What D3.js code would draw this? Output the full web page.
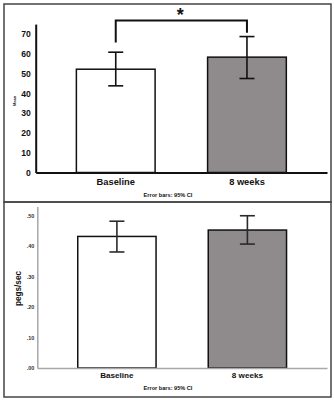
<!DOCTYPE html>
<html>
<head>
<meta charset="utf-8">
<script src="https://cdn.jsdelivr.net/npm/d3@7"></script>
<style>
  body { margin: 0; background: #fff; }
  svg { display: block; font-family: Arial, "Liberation Sans", sans-serif; }
</style>
</head>
<body>
<svg class="svg-chart" width="334" height="400"></svg>
<script>
// data
const groups = ["Baseline", "8 weeks"]
const barFills = ["#ffffff", "#8f8b8c"]

const meanValues = [52.2, 58.3]
const meanLower = [43.8, 47.5]
const meanUpper = [60.8, 68.7]
const meanTicks = [0, 10, 20, 30, 40, 50, 60, 70]
const bracketLegs = [65.7, 70.6]
const bracketTop = 76.8

const pegsValues = [0.432, 0.453]
const pegsLower = [0.381, 0.407]
const pegsUpper = [0.482, 0.500]
const pegsTicks = [0, 0.1, 0.2, 0.3, 0.4, 0.5]

const footNote = "Error bars: 95% CI"

var svg = d3.select('.svg-chart')

// panel frames
svg.append('rect')
    .attr('x', 4).attr('y', 4).attr('width', 327).attr('height', 198)
    .attr('fill', 'none').attr('stroke', '#444').attr('stroke-width', 1.5)
svg.append('rect')
    .attr('x', 4).attr('y', 202).attr('width', 327).attr('height', 195)
    .attr('fill', 'none').attr('stroke', '#444').attr('stroke-width', 1.5)

const drawPanel = (p) => {
    var data = groups.map((g, i) => ({
        group: g, value: p.values[i], lo: p.lower[i], hi: p.upper[i], fill: barFills[i]
    }))

    var x_scale = d3.scaleBand()
        .domain(groups)
        .range([p.left, 327])
        .paddingInner(0.4)
        .paddingOuter(0.31)
    var y_scale = d3.scaleLinear()
        .domain([0, p.max])
        .range([p.zeroY, p.topY])

    // bars
    svg.append('g').selectAll('rect')
        .data(data)
        .enter().append('rect')
        .attr('x', d => x_scale(d.group))
        .attr('y', d => y_scale(d.value))
        .attr('width', x_scale.bandwidth())
        .attr('height', d => y_scale(0) - y_scale(d.value))
        .attr('fill', d => d.fill)
        .attr('stroke', '#111')
        .attr('stroke-width', 1.5)

    // error bars
    var eb = svg.append('g').attr('stroke', p.errColor).attr('stroke-width', 1.6)
    data.forEach(d => {
        var cx = x_scale(d.group) + x_scale.bandwidth() / 2
        eb.append('line')
            .attr('x1', cx).attr('x2', cx)
            .attr('y1', y_scale(d.lo)).attr('y2', y_scale(d.hi))
        eb.append('line')
            .attr('x1', cx - 7.5).attr('x2', cx + 7.5)
            .attr('y1', y_scale(d.hi)).attr('y2', y_scale(d.hi))
        eb.append('line')
            .attr('x1', cx - 7.5).attr('x2', cx + 7.5)
            .attr('y1', y_scale(d.lo)).attr('y2', y_scale(d.lo))
    })

    // axes
    var y_axis = d3.axisLeft(y_scale)
        .tickValues(p.ticks)
        .tickFormat(p.fmt)
        .tickSize(0)
        .tickPadding(p.yPad)
    var gy = svg.append('g')
        .attr('transform', 'translate(' + p.left + ',0)')
        .call(y_axis)
    gy.select('.domain').attr('stroke', p.axisColor).attr('stroke-width', p.axisWidth)
    gy.selectAll('text')
        .attr('font-size', p.yFont).attr('font-weight', 'bold').attr('fill', p.tickColor)
        .attr('font-family', 'Arial, "Liberation Sans", sans-serif')

    var x_axis = d3.axisBottom(x_scale)
        .tickSize(0)
        .tickSizeOuter(0)
        .tickPadding(p.xPad)
    var gx = svg.append('g')
        .attr('transform', 'translate(0,' + p.zeroY + ')')
        .call(x_axis)
    gx.select('.domain').attr('stroke', p.axisColor).attr('stroke-width', p.axisWidth)
    gx.selectAll('text')
        .attr('font-size', p.xFont).attr('font-weight', 'bold').attr('fill', '#111')
        .attr('font-family', 'Arial, "Liberation Sans", sans-serif')

    // y label
    svg.append('text')
        .attr('transform', 'translate(' + p.labelX + ',' + p.labelY + ') rotate(-90)')
        .attr('text-anchor', 'middle')
        .attr('dominant-baseline', 'central')
        .attr('font-size', p.labelFont)
        .attr('font-weight', 'bold')
        .attr('fill', '#111')
        .text(p.label)

    // footnote
    svg.append('text')
        .attr('x', 168).attr('y', p.noteY)
        .attr('text-anchor', 'middle')
        .attr('font-size', 5.6)
        .attr('font-weight', 'bold')
        .attr('fill', '#111')
        .text(footNote)

    return { x_scale, y_scale }
}

var meanPanel = drawPanel({
    values: meanValues, lower: meanLower, upper: meanUpper,
    ticks: meanTicks, fmt: d3.format('d'),
    left: 35.7, zeroY: 172.5, topY: 24.1, max: 75,
    axisColor: '#111', axisWidth: 2, tickColor: '#111', errColor: '#111',
    yFont: 8.6, yPad: 5, xFont: 9.3, xPad: 6,
    label: 'Mean', labelX: 14.5, labelY: 101, labelFont: 4,
    noteY: 197
})

// significance bracket
var c1 = meanPanel.x_scale(groups[0]) + meanPanel.x_scale.bandwidth() / 2
var c2 = meanPanel.x_scale(groups[1]) + meanPanel.x_scale.bandwidth() / 2
var line = d3.line()
svg.append('path')
    .attr('d', line([
        [c1, meanPanel.y_scale(bracketLegs[0])],
        [c1, meanPanel.y_scale(bracketTop)],
        [c2, meanPanel.y_scale(bracketTop)],
        [c2, meanPanel.y_scale(bracketLegs[1])]
    ]))
    .attr('fill', 'none')
    .attr('stroke', '#111')
    .attr('stroke-width', 2)
svg.append('text')
    .attr('x', (c1 + c2) / 2 - 1)
    .attr('y', 21)
    .attr('text-anchor', 'middle')
    .attr('font-size', 18)
    .attr('font-weight', 'bold')
    .attr('fill', '#111')
    .text('*')

drawPanel({
    values: pegsValues, lower: pegsLower, upper: pegsUpper,
    ticks: pegsTicks, fmt: d3.format('.2f'),
    left: 37.3, zeroY: 368, topY: 206.6, max: 0.53,
    axisColor: '#a8a8a8', axisWidth: 1.5, tickColor: '#333', errColor: '#2a2a2a',
    yFont: 5.5, yPad: 3, xFont: 8.1, xPad: 4,
    label: 'pegs/sec', labelX: 18.3, labelY: 288.5, labelFont: 8.2,
    noteY: 390
})

// tick labels in the lower panel drop the leading zero (.50, .40 ...)
svg.selectAll('g text').each(function () {
    var t = d3.select(this).text()
    if (t.startsWith('0.')) d3.select(this).text(t.slice(1))
})
</script>
</body>
</html>
